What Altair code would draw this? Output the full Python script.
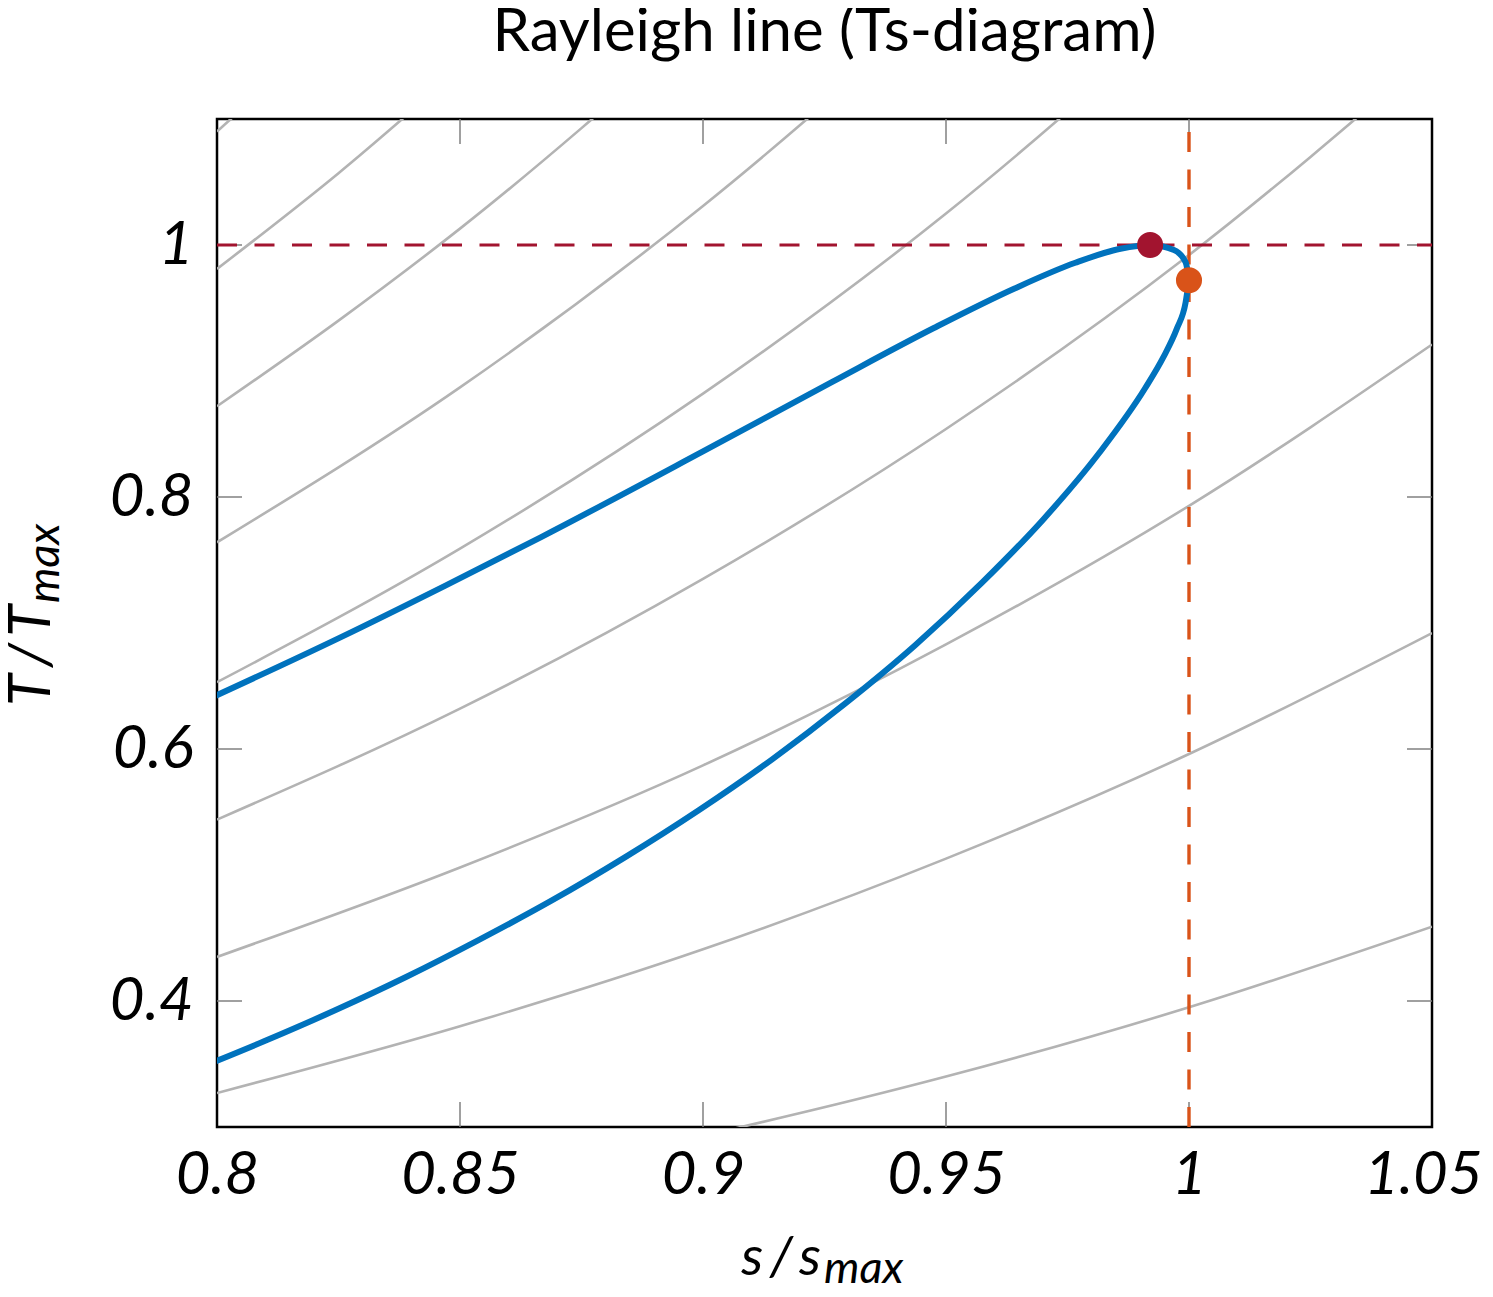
import altair as alt
import pandas as pd

# ---------------- data ----------------
title_text = "Rayleigh line (Ts-diagram)"
x_title_main = "s\u2009/\u2009s"
y_title_main = "T\u2009/\u2009T"
sub_text = "max"

s_ticks = [0.8, 0.85, 0.9, 0.95, 1.0, 1.05]
T_ticks = [0.4, 0.6, 0.8, 1.0]
s_inner_ticks = [0.85, 0.9, 0.95, 1.0]
T_inner_ticks = [0.4, 0.6, 0.8, 1.0]

# Rayleigh line: subsonic (upper) branch, left to right, ending at the sonic point
upper_s = [0.7958, 0.8253, 0.8470, 0.8667, 0.8999, 0.9265, 0.9475, 0.9640, 0.9766,
           0.9859, 0.9920, 0.9969, 0.9993, 1.0000]
upper_T = [0.6353, 0.6884, 0.7297, 0.7682, 0.8360, 0.8912, 0.9341, 0.9653, 0.9859,
           0.9970, 1.0000, 0.9960, 0.9864, 0.9722]
# supersonic (lower) branch, left to right, ending at the sonic point
lower_s = [0.7956, 0.8098, 0.8243, 0.8390, 0.8538, 0.8689, 0.8840, 0.8992, 0.9143,
           0.9291, 0.9436, 0.9573, 0.9702, 0.9816, 0.9910, 0.9947, 0.9975, 0.9993, 1.0000]
lower_T = [0.3457, 0.3682, 0.3926, 0.4192, 0.4483, 0.4798, 0.5142, 0.5516, 0.5920,
           0.6356, 0.6822, 0.7316, 0.7830, 0.8353, 0.8865, 0.9108, 0.9336, 0.9543, 0.9722]

# isobars (grey lines)
iso_A_s = [0.80, 0.85]
iso_A_T = [1.090, 1.266]
iso_B_s = [0.80, 0.825, 0.85]
iso_B_T = [0.981, 1.057, 1.140]
iso_C_s = [0.80, 0.825, 0.85, 0.90]
iso_C_T = [0.872, 0.940, 1.013, 1.177]
iso_D_s = [0.80, 0.85, 0.90, 0.95]
iso_D_T = [0.764, 0.887, 1.031, 1.197]
iso_E_s = [0.80, 0.85, 0.90, 0.95, 1.00]
iso_E_T = [0.653, 0.759, 0.882, 1.025, 1.191]
iso_F_s = [0.80, 0.85, 0.90, 0.95, 1.00, 1.05]
iso_F_T = [0.544, 0.632, 0.735, 0.854, 0.992, 1.152]
iso_G_s = [0.80, 0.85, 0.90, 0.95, 1.00, 1.05]
iso_G_T = [0.435, 0.506, 0.587, 0.683, 0.793, 0.921]
iso_H_s = [0.80, 0.85, 0.90, 0.95, 1.00, 1.05]
iso_H_T = [0.327, 0.380, 0.441, 0.513, 0.596, 0.692]
iso_I_s = [0.80, 0.85, 0.90, 0.95, 1.00, 1.05]
iso_I_T = [0.217, 0.252, 0.293, 0.340, 0.395, 0.459]

T_max_point_s = [0.992]
T_max_point_T = [1.000]
s_max_point_s = [1.000]
s_max_point_T = [0.972]
T_max_level = [1.0]
s_max_level = [1.0]

s_domain = [0.8, 1.05]
T_domain = [0.3, 1.1]

# ---------------- tables ----------------
iso_sets = {
    "A": (iso_A_s, iso_A_T), "B": (iso_B_s, iso_B_T), "C": (iso_C_s, iso_C_T),
    "D": (iso_D_s, iso_D_T), "E": (iso_E_s, iso_E_T), "F": (iso_F_s, iso_F_T),
    "G": (iso_G_s, iso_G_T), "H": (iso_H_s, iso_H_T), "I": (iso_I_s, iso_I_T),
}
iso_df = pd.concat(
    [pd.DataFrame({"s": s, "T": t, "line": k}) for k, (s, t) in iso_sets.items()],
    ignore_index=True,
)
ray_df = pd.concat(
    [pd.DataFrame({"s": upper_s, "T": upper_T, "branch": "subsonic"}),
     pd.DataFrame({"s": lower_s, "T": lower_T, "branch": "supersonic"})],
    ignore_index=True,
)

W, H = 1215, 1008
LABEL_FONT = "Lato"

xscale = alt.Scale(domain=s_domain, nice=False, zero=False)
yscale = alt.Scale(domain=T_domain, nice=False, zero=False)
xaxis = alt.Axis(values=s_ticks, format="~g", ticks=False, tickSize=0, domain=False, grid=False,
                 title=None, labelFont=LABEL_FONT, labelFontStyle="italic", labelFontSize=60,
                 labelPadding=19, labelColor="black", labelFlush=False, labelOverlap=False,
                 labelOffset={"condition": {"test": "datum.value > 1.04", "value": -9},
                              "value": 0})
yaxis = alt.Axis(values=T_ticks, format="~g", ticks=False, tickSize=0, domain=False, grid=False,
                 title=None, labelFont=LABEL_FONT, labelFontStyle="italic", labelFontSize=60,
                 labelPadding=24, labelColor="black", labelFlush=False, labelOverlap=False)

X = alt.X("s:Q", scale=xscale, axis=xaxis)
Y = alt.Y("T:Q", scale=yscale, axis=yaxis)

tick_color = "#808080"
xt_df = pd.DataFrame({"s": s_inner_ticks})
yt_df = pd.DataFrame({"T": T_inner_ticks})
ticks_bottom = alt.Chart(xt_df).mark_rule(color=tick_color, strokeWidth=1.5).encode(
    x=X, y=alt.value(H), y2=alt.value(H - 25))
ticks_top = alt.Chart(xt_df).mark_rule(color=tick_color, strokeWidth=1.5).encode(
    x=X, y=alt.value(0), y2=alt.value(25))
ticks_left = alt.Chart(yt_df).mark_rule(color=tick_color, strokeWidth=1.5).encode(
    y=Y, x=alt.value(0), x2=alt.value(25))
ticks_right = alt.Chart(yt_df).mark_rule(color=tick_color, strokeWidth=1.5).encode(
    y=Y, x=alt.value(W), x2=alt.value(W - 25))

isobars = alt.Chart(iso_df).mark_line(
    clip=True, color="#b3b3b3", strokeWidth=2.6, interpolate="monotone"
).encode(x=X, y=Y, detail="line:N")

red_dash = alt.Chart(pd.DataFrame({"T": T_max_level})).mark_rule(
    color="#A2142F", strokeWidth=3.2, strokeDash=[20, 17.5]
).encode(y=Y, x=alt.value(0), x2=alt.value(W))

orange_dash = alt.Chart(pd.DataFrame({"s": s_max_level})).mark_rule(
    color="#D95319", strokeWidth=3.4, strokeDash=[20, 17.5]
).encode(x=X, y=alt.value(H), y2=alt.value(0))

rayleigh = alt.Chart(ray_df).mark_line(
    clip=True, color="#0072BD", strokeWidth=6, interpolate="monotone"
).encode(x=X, y=Y, detail="branch:N")

pt_red = alt.Chart(pd.DataFrame({"s": T_max_point_s, "T": T_max_point_T})).mark_circle(
    color="#A2142F", size=680, opacity=1).encode(x=X, y=Y)
pt_orange = alt.Chart(pd.DataFrame({"s": s_max_point_s, "T": s_max_point_T})).mark_circle(
    color="#D95319", size=680, opacity=1).encode(x=X, y=Y)


def text_layer(txt, **mark_kw):
    return alt.Chart(pd.DataFrame({"label": [txt]})).mark_text(**mark_kw).encode(
        text="label:N")


title_layer = text_layer(title_text, font="Lato", fontSize=60, color="black",
                         align="center", baseline="alphabetic", x=W / 2, y=-68)
xt_main = text_layer(x_title_main, font=LABEL_FONT, fontStyle="italic", fontSize=55,
                     color="black", align="right", baseline="alphabetic", x=604, y=1156)
xt_sub = text_layer(sub_text, font=LABEL_FONT, fontStyle="italic", fontSize=45,
                    color="black", align="left", baseline="alphabetic", x=607, y=1164)
yt_main = text_layer(y_title_main, font=LABEL_FONT, fontStyle="italic", fontSize=58,
                     color="black", align="right", baseline="alphabetic", angle=270,
                     x=-167, y=486)
yt_sub = text_layer(sub_text, font=LABEL_FONT, fontStyle="italic", fontSize=45,
                    color="black", align="left", baseline="alphabetic", angle=270,
                    x=-158, y=484)

chart = alt.layer(
    ticks_bottom, ticks_top, ticks_left, ticks_right,
    isobars, red_dash, orange_dash, rayleigh, pt_red, pt_orange,
    title_layer, xt_main, xt_sub, yt_main, yt_sub,
).properties(
    width=W, height=H,
    padding={"left": 209, "top": 111, "right": 53, "bottom": 162},
    autosize=alt.AutoSizeParams(type="none"),
).configure_view(
    stroke="black", strokeWidth=2.5
)

chart.save("out.html", embed_options={"renderer": "svg", "actions": False})
